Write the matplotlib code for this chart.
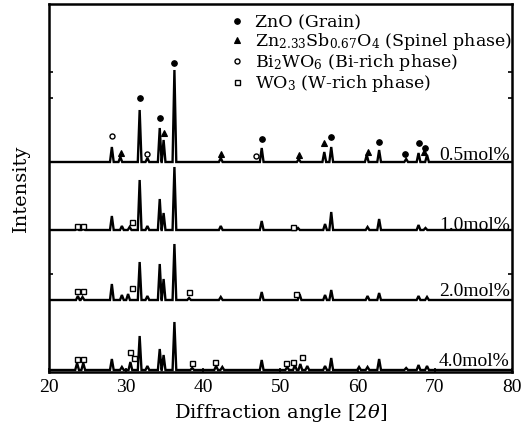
import matplotlib.pyplot as plt
from matplotlib.lines import Line2D

plt.rcParams['font.family'] = 'Liberation Serif'
plt.rcParams['mathtext.fontset'] = 'custom'
plt.rcParams['mathtext.rm'] = 'DejaVu Serif'
plt.rcParams['mathtext.it'] = 'DejaVu Serif:italic'
plt.rcParams['mathtext.default'] = 'regular'

# XRD patterns, one per Sb/W content; heights are above each pattern's baseline
samples = ['0.5mol%', '1.0mol%', '2.0mol%', '4.0mol%']
offsets = [210, 142, 72, 2]
label_y = [217, 147, 80, 10]

pos_05 = [28.2, 29.3, 31.8, 32.8, 34.4, 34.9, 36.3, 42.3, 47.6, 52.4, 55.7, 56.6, 61.2, 62.8, 66.3, 67.9, 69.0]
hgt_05 = [15, 5, 52, 4, 34, 22, 92, 4, 14, 3, 10, 15, 7, 12, 3, 9, 7]

pos_10 = [23.7, 24.5, 28.2, 29.5, 30.5, 31.8, 32.8, 34.4, 34.9, 36.3, 42.3, 47.6, 52.3, 55.8, 56.6, 61.3, 62.8, 67.9, 68.8]
hgt_10 = [1, 1, 14, 4, 3, 50, 4, 31, 17, 63, 4, 9, 2, 6, 18, 3, 11, 5, 2]

pos_20 = [23.8, 24.4, 28.2, 29.5, 30.3, 31.8, 32.8, 34.4, 34.9, 36.3, 38.2, 42.3, 47.6, 52.5, 55.8, 56.6, 61.3, 62.8, 67.9, 69.0]
hgt_20 = [4, 3, 16, 5, 6, 38, 4, 36, 21, 56, 2, 3, 8, 6, 5, 10, 4, 7, 4, 3]

pos_40 = [23.7, 24.5, 28.2, 29.5, 30.6, 31.8, 32.8, 34.4, 34.9, 36.3, 38.6, 41.7, 42.5, 47.6, 50.9, 51.9,
          52.6, 53.5, 55.8, 56.6, 60.2, 61.3, 62.8, 66.3, 67.9, 69.0]
hgt_40 = [7, 7, 11, 3, 8, 34, 4, 21, 15, 48, 2, 4, 3, 10, 3, 5, 6, 4, 4, 12, 3, 3, 11, 2, 5, 4]

# phase markers: Z = ZnO, S = spinel, B = Bi2WO6, W = WO3
mk_x_05 = [28.2, 29.4, 31.8, 32.8, 34.4, 34.9, 36.3, 42.3, 46.9, 47.6, 52.4, 55.7, 56.6, 61.3, 62.8, 66.2, 67.9, 68.6, 68.8]
mk_y_05 = [26, 9, 64, 8, 44, 29, 99, 8, 6, 23, 7, 19, 25, 10, 20, 8, 19, 10, 14]
mk_k_05 = ['B', 'S', 'Z', 'B', 'Z', 'S', 'Z', 'S', 'B', 'Z', 'S', 'S', 'Z', 'S', 'Z', 'Z', 'Z', 'S', 'Z']

mk_x_10 = [23.7, 24.5, 30.8, 51.7]
mk_y_10 = [4, 4, 8, 3]
mk_k_10 = ['W', 'W', 'W', 'W']

mk_x_20 = [23.7, 24.5, 30.8, 38.2, 52.0]
mk_y_20 = [9, 9, 12, 8, 6]
mk_k_20 = ['W', 'W', 'W', 'W', 'W']

mk_x_40 = [23.7, 24.5, 30.5, 31.1, 38.6, 41.5, 50.7, 51.6, 52.8]
mk_y_40 = [11, 11, 18, 12, 7, 8, 7, 8, 13]
mk_k_40 = ['W', 'W', 'W', 'W', 'W', 'W', 'W', 'W', 'W']

patterns = [(pos_05, hgt_05), (pos_10, hgt_10), (pos_20, hgt_20), (pos_40, hgt_40)]
markers = [(mk_x_05, mk_y_05, mk_k_05), (mk_x_10, mk_y_10, mk_k_10),
           (mk_x_20, mk_y_20, mk_k_20), (mk_x_40, mk_y_40, mk_k_40)]

phase_labels = {
    'Z': 'ZnO (Grain)',
    'S': 'Zn$_{2.33}$Sb$_{0.67}$O$_4$ (Spinel phase)',
    'B': 'Bi$_2$WO$_6$ (Bi-rich phase)',
    'W': 'WO$_3$ (W-rich phase)',
}
phase_style = {
    'Z': dict(marker='o', ms=4, mfc='black', mec='black', mew=0.8),
    'S': dict(marker='^', ms=4, mfc='black', mec='black', mew=0.8),
    'B': dict(marker='o', ms=3.6, mfc='white', mec='black', mew=1.0),
    'W': dict(marker='s', ms=3.6, mfc='white', mec='black', mew=1.0),
}

HW = 0.24  # half width of a peak foot in degrees


def peak_line(pos, hgt, base):
    # polyline: baseline, then foot-top-foot for each peak; feet inside a neighbour are dropped
    xs, ys = [20.0], [base]
    for i, (p, h) in enumerate(zip(pos, hgt)):
        if i == 0 or p - pos[i - 1] > 2 * HW:
            xs.append(p - HW)
            ys.append(base)
        xs.append(p)
        ys.append(base + h)
        if i == len(pos) - 1 or pos[i + 1] - p > 2 * HW:
            xs.append(p + HW)
            ys.append(base)
    xs.append(80.0)
    ys.append(base)
    return xs, ys


fig = plt.figure(figsize=(5.25, 4.34), dpi=100)
ax = fig.add_axes([48.5 / 525, 62 / 434, 463.5 / 525, 368 / 434])

for (pos, hgt), (mx, my, mk), base, name, ly in zip(patterns, markers, offsets, samples, label_y):
    xs, ys = peak_line(pos, hgt, base)
    ax.plot(xs, ys, color='black', lw=1.7, solid_joinstyle='miter')
    for x, y, k in zip(mx, my, mk):
        ax.plot([x], [base + y], ls='none', **phase_style[k])
    ax.text(79.7, ly, name, ha='right', va='center', fontsize=14)

handles = [Line2D([], [], ls='none', **phase_style[k]) for k in ['Z', 'S', 'B', 'W']]
ax.legend(handles, [phase_labels[k] for k in ['Z', 'S', 'B', 'W']], loc='upper right',
          bbox_to_anchor=(1.0065, 0.981), frameon=False, prop={'family': 'DejaVu Serif', 'size': 12.5},
          handlelength=0.8, handletextpad=0.6, labelspacing=0.0, borderaxespad=0, borderpad=0.2)

ax.set_xlim(20, 80)
ax.set_ylim(0, 368)
ax.set_xticks([20, 30, 40, 50, 60, 70, 80])
ax.set_yticks([72, 98, 274, 300])
ax.set_yticklabels([])
ax.tick_params(axis='x', direction='in', length=3, width=1.2, labelsize=14, pad=5)
ax.tick_params(axis='y', direction='in', length=3, width=1.2, left=True, right=True)
for s in ax.spines.values():
    s.set_linewidth(1.8)

ax.set_xlabel(r'Diffraction angle [2$\it{\theta}$]', fontsize=14, family='DejaVu Serif', labelpad=4)
ax.set_ylabel('Intensity', fontsize=14, family='DejaVu Serif', labelpad=10)

fig.savefig('out.png', dpi=100)
